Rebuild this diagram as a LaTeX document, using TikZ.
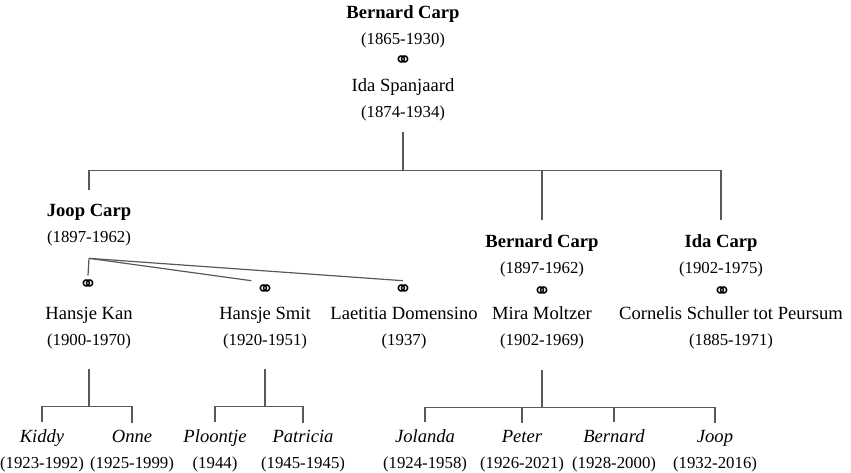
\documentclass[tikz,border=0pt]{standalone}
\usepackage{fontspec}
\setmainfont{Liberation Serif}
\newfontfamily\ringfont{DejaVu Sans}
\definecolor[named]{TreeGray}{gray}{0.35}
\newcommand{\rings}{{\ringfont\fontsize{11}{11}\selectfont ⚭}}
\newcommand{\yrs}[1]{{\fontsize{8.4}{13}\selectfont(#1)}}
\tikzset{
  person/.style={align=center,inner sep=0pt,font=\fontsize{9.3}{13}\selectfont},
  ringnode/.style={inner sep=2pt},
  branch/.style={draw=TreeGray,line width=0.6pt},
}

\begin{document}
\begin{tikzpicture}[x=0.5pt,y=-0.5pt]
  \useasboundingbox (0,0) rectangle (851,472);
  % Parents
  \node[person] (BC) at (403,27) {\textbf{Bernard Carp}\\\yrs{1865-1930}};
  \node[ringnode] (BCm) at (403,62) {\rings};
  \node[person] (IS) at (403,100) {Ida Spanjaard\\\yrs{1874-1934}};
  % Children
  \node[person] (JC) at (89,225) {\textbf{Joop Carp}\\\yrs{1897-1962}};
  \node[person] (BC2) at (542,256) {\textbf{Bernard Carp}\\\yrs{1897-1962}};
  \node[person] (IC) at (721,256) {\textbf{Ida Carp}\\\yrs{1902-1975}};
  % Spouses
  \node[ringnode] (JCm1) at (88,286) {\rings};
  \node[ringnode] (JCm2) at (265,291) {\rings};
  \node[ringnode] (JCm3) at (403,291) {\rings};
  \node[ringnode] (BC2m) at (542,293) {\rings};
  \node[ringnode] (ICm) at (722,293) {\rings};
  \node[person] (HK) at (89,328) {Hansje Kan\\\yrs{1900-1970}};
  \node[person] (HS) at (265,328) {Hansje Smit\\\yrs{1920-1951}};
  \node[person] (LD) at (404,328) {Laetitia Domensino\\\yrs{1937}};
  \node[person] (MM) at (542,328) {Mira Moltzer\\\yrs{1902-1969}};
  \node[person] (CS) at (731,328) {Cornelis Schuller tot Peursum\\\yrs{1885-1971}};
  % Grandchildren
  \node[person] (Ki) at (42,451) {\textit{Kiddy}\\\yrs{1923-1992}};
  \node[person] (On) at (132,451) {\textit{Onne}\\\yrs{1925-1999}};
  \node[person] (Pl) at (215,451) {\textit{Ploontje}\\\yrs{1944}};
  \node[person] (Pa) at (303,451) {\textit{Patricia}\\\yrs{1945-1945}};
  \node[person] (Jo) at (425,451) {\textit{Jolanda}\\\yrs{1924-1958}};
  \node[person] (Pe) at (522,451) {\textit{Peter}\\\yrs{1926-2021}};
  \node[person] (Be) at (614,451) {\textit{Bernard}\\\yrs{1928-2000}};
  \node[person] (Jp) at (715,451) {\textit{Joop}\\\yrs{1932-2016}};
  % Branches to the children
  \draw[branch] ([yshift=-5pt]IS.south) -- ++(0,39) coordinate (top);
  \draw[branch] (top) -| ([yshift=7pt]JC.north);
  \draw[branch] (top) -| ([yshift=7pt]BC2.north);
  \draw[branch] (top) -| ([yshift=7pt]IC.north);
  % Marriages of Joop
  \draw[branch] ([yshift=-6pt]JC.south) coordinate (JCw) -- (JCm1.north);
  \draw[branch] (JCw) -- (JCm2.north west);
  \draw[branch] (JCw) -- (JCm3.north);
  % Branches to the grandchildren
  \draw[branch] ([yshift=-10pt]HK.south) -- ++(0,37) coordinate (HKk);
  \draw[branch] (HKk) -| ([yshift=3.5pt]Ki.north);
  \draw[branch] (HKk) -| ([yshift=3.5pt]On.north);
  \draw[branch] ([yshift=-10pt]HS.south) -- ++(0,37) coordinate (HSk);
  \draw[branch] (HSk) -| ([yshift=3.5pt]Pl.north);
  \draw[branch] (HSk) -| ([yshift=3.5pt]Pa.north);
  \draw[branch] ([yshift=-10pt]MM.south) -- ++(0,38) coordinate (MMk);
  \draw[branch] (MMk) -| ([yshift=3.5pt]Jo.north);
  \draw[branch] (MMk) -| ([yshift=3.5pt]Pe.north);
  \draw[branch] (MMk) -| ([yshift=3.5pt]Be.north);
  \draw[branch] (MMk) -| ([yshift=3.5pt]Jp.north);
\end{tikzpicture}
\end{document}
